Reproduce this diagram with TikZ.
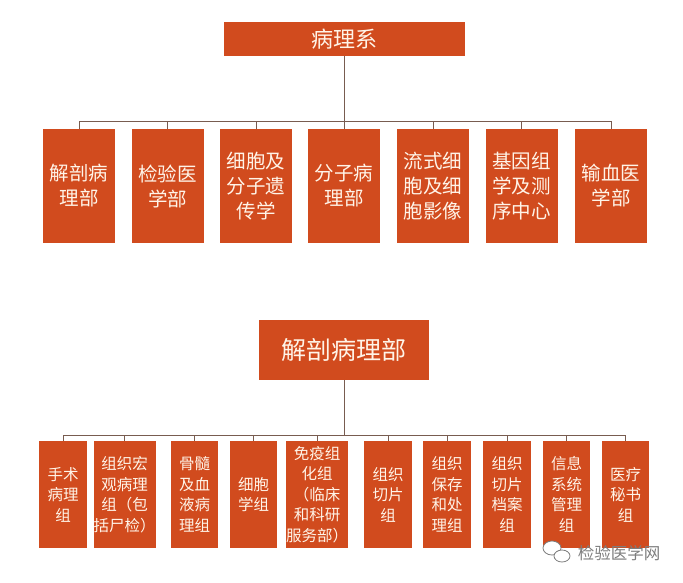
\documentclass[tikz,border=0pt]{standalone}
\usepackage{fontspec}
\setmainfont{Noto Sans CJK SC}
\usepackage{tikz}

\definecolor{boxred}{RGB}{209,75,30}
\definecolor{boxtxt}{RGB}{255,244,232}
\definecolor{linebrown}{RGB}{120,92,80}
\definecolor{markgray}{RGB}{125,125,125}

\tikzset{
  unit/.style={fill=boxred, text=boxtxt, inner sep=0pt, align=center},
  head/.style={unit, minimum height=34pt},
  dept/.style={unit, minimum width=72pt, minimum height=114pt,
    font=\fontsize{19.5}{25}\selectfont},
  group/.style={unit, minimum height=107pt,
    font=\fontsize{15.5}{20.5}\selectfont},
  link/.style={draw=linebrown, line width=1pt}
}

\begin{document}
\begin{tikzpicture}[x=1pt,y=-1pt]
\useasboundingbox (0,0) rectangle (683,582);

% upper chart
\node[head, minimum width=241pt, font=\fontsize{22}{26}\selectfont] (sys) at (344.5,39) {病理系};
\coordinate (busA) at (344,121);
\node[dept] (d1) at (79,186) {解剖病\\理部};
\node[dept] (d2) at (167.5,186) {检验医\\学部};
\node[dept] (d3) at (256,186) {细胞及\\分子遗\\传学};
\node[dept] (d4) at (344,186) {分子病\\理部};
\node[dept] (d5) at (433,186) {流式细\\胞及细\\胞影像};
\node[dept] (d6) at (521.5,186) {基因组\\学及测\\序中心};
\node[dept] (d7) at (611,186) {输血医\\学部};
\foreach \to in {d1,d2,d3,d4,d5,d6,d7}
\draw[link] (sys.south) -- (sys.south |- busA) -| (\to.north);

% lower chart
\node[head, minimum width=170pt, minimum height=60pt, font=\fontsize{25}{30}\selectfont] (anat) at (344,350) {解剖病理部};
\coordinate (busB) at (344,435);
\node[group, minimum width=48pt] (g1) at (63,494.5) {手术\\病理\\组};
\node[group, minimum width=53pt] (g2) at (124.5,494.5) {组织宏\\观病理\\组（包\\括尸检）};
\node[group, minimum width=47pt] (g3) at (194.5,494.5) {骨髓\\及血\\液病\\理组};
\node[group, minimum width=47pt] (g4) at (253.5,494.5) {细胞\\学组};
\node[group, minimum width=55pt] (g5) at (317,494.5) {免疫组\\化组\\（临床\\和科研\\服务部）};
\node[group, minimum width=48pt] (g6) at (388,494.5) {组织\\切片\\组};
\node[group, minimum width=48pt] (g7) at (447,494.5) {组织\\保存\\和处\\理组};
\node[group, minimum width=48pt] (g8) at (507,494.5) {组织\\切片\\档案\\组};
\node[group, minimum width=47pt] (g9) at (566.5,494.5) {信息\\系统\\管理\\组};
\node[group, minimum width=47pt] (g10) at (625.5,494.5) {医疗\\秘书\\组};
\foreach \to in {g1,g2,g3,g4,g5,g6,g7,g8,g9,g10}
\draw[link] (anat.south) -- (anat.south |- busB) -| (\to.north);

% watermark
\filldraw[draw=markgray, fill=white, line width=0.8pt] (552,548) ellipse (9pt and 7pt);
\filldraw[draw=markgray, fill=white, line width=0.8pt] (562,556) ellipse (8pt and 6pt);
\node[text=markgray, font=\fontsize{16.5}{18}\selectfont, inner sep=0pt] (mark) at (619,553) {检验医学网};
\end{tikzpicture}
\end{document}
